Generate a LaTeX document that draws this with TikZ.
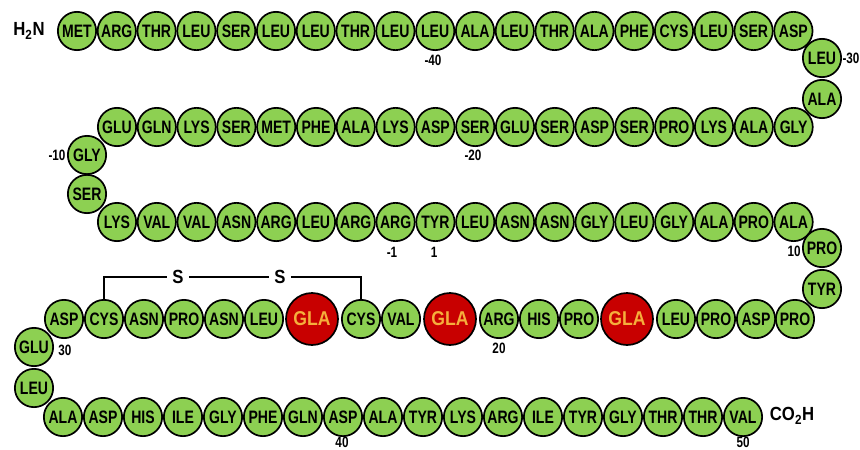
\documentclass[tikz,border=0pt]{standalone}
\usepackage{fontspec}
% condensed sans faces for residue names and numbering
\newfontfamily\aafont[FakeStretch=0.78]{Liberation Sans}
\newfontfamily\labfont[FakeStretch=0.88]{Liberation Sans}
\definecolor{aagreen}{RGB}{141,208,82}
\definecolor{glared}{RGB}{200,0,0}
\definecolor{glatext}{RGB}{245,175,60}

\begin{document}
\begin{tikzpicture}[x=1pt,y=-1pt,
  aa/.style={circle,draw=black,line width=1.7pt,fill=aagreen,minimum size=38.3pt,
    inner sep=0pt,font=\aafont\bfseries\fontsize{18}{18}\selectfont},
  gla/.style={aa,fill=glared,minimum size=52pt,text=glatext,
    font=\labfont\bfseries\fontsize{20}{20}\selectfont},
  num/.style={inner sep=0pt,font=\aafont\bfseries\fontsize{15}{15}\selectfont},
  term/.style={inner sep=0pt,font=\labfont\bfseries\fontsize{19}{19}\selectfont},
  sulfur/.style={inner sep=5pt,font=\labfont\bfseries\fontsize{19}{19}\selectfont},
  bond/.style={line width=1.3pt}]
\useasboundingbox (0,0) rectangle (860,450);

% row 1 (left to right)
\foreach \n [count=\i from 0] in {MET,ARG,THR,LEU,SER,LEU,LEU,THR,LEU,LEU,ALA,LEU,THR,ALA,PHE,CYS,LEU,SER,ASP}
  \node[aa] (ra\i) at (77+\i*39.8,31) {\n};
\node[aa] (ta1) at (822,58) {LEU};
\node[aa] (ta2) at (822,99) {ALA};

% row 2
\foreach \n [count=\i from 0] in {GLU,GLN,LYS,SER,MET,PHE,ALA,LYS,ASP,SER,GLU,SER,ASP,SER,PRO,LYS,ALA,GLY}
  \node[aa] (rb\i) at (117+\i*39.8,127) {\n};
\node[aa] (tb1) at (87,155) {GLY};
\node[aa] (tb2) at (87,194) {SER};

% row 3
\foreach \n [count=\i from 0] in {LYS,VAL,VAL,ASN,ARG,LEU,ARG,ARG,TYR,LEU,ASN,ASN,GLY,LEU,GLY,ALA,PRO,ALA}
  \node[aa] (rc\i) at (117+\i*39.8,222) {\n};
\node[aa] (tc1) at (822,248) {PRO};
\node[aa] (tc2) at (822,289) {TYR};

% row 4 with the gamma-carboxyglutamate residues
\node[aa] (rd0) at (64,319) {ASP};
\node[aa] (rd1) at (104,319) {CYS};
\node[aa] (rd2) at (144,319) {ASN};
\node[aa] (rd3) at (184,319) {PRO};
\node[aa] (rd4) at (224,319) {ASN};
\node[aa] (rd5) at (264,319) {LEU};
\node[gla] (rd6) at (312,319) {GLA};
\node[aa] (rd7) at (361,319) {CYS};
\node[aa] (rd8) at (401,319) {VAL};
\node[gla] (rd9) at (450,319) {GLA};
\node[aa] (rd10) at (499,319) {ARG};
\node[aa] (rd11) at (539,319) {HIS};
\node[aa] (rd12) at (579,319) {PRO};
\node[gla] (rd13) at (627,319) {GLA};
\node[aa] (rd14) at (676,319) {LEU};
\node[aa] (rd15) at (716,319) {PRO};
\node[aa] (rd16) at (756,319) {ASP};
\node[aa] (rd17) at (795,319) {PRO};
\node[aa] (td1) at (34,347) {GLU};
\node[aa] (td2) at (34,388) {LEU};

% row 5
\foreach \n [count=\i from 0] in {ALA,ASP,HIS,ILE,GLY,PHE,GLN,ASP,ALA,TYR,LYS,ARG,ILE,TYR,GLY,THR,THR,VAL}
  \node[aa] (re\i) at (63+\i*40,417) {\n};

% termini
\node[term] (nterm) at (29,31) {H\textsubscript{2}N};
\node[term] (cterm) at (792,416) {CO\textsubscript{2}H};

% disulfide bridge between the two cysteines
\node[sulfur] (s1) at (178,277) {S};
\node[sulfur] (s2) at (280,277) {S};
\draw[bond] (rd1.north) |- (s1.west);
\draw[bond] (s1.east) -- (s2.west);
\draw[bond] (s2.east) -| (rd7.north);

% residue numbering
\node[num] (n40m) at (433,60) {-40};
\node[num] (n30m) at (851,58) {-30};
\node[num] (n20m) at (473,155) {-20};
\node[num] (n10m) at (57,155) {-10};
\node[num] (n1m) at (392,252) {-1};
\node[num] (n1) at (434,252) {1};
\node[num] (n10) at (794,251) {10};
\node[num] (n30) at (65,350) {30};
\node[num] (n20) at (499,348) {20};
\node[num] (n40) at (342,442) {40};
\node[num] (n50) at (743,442) {50};
\end{tikzpicture}
\end{document}
